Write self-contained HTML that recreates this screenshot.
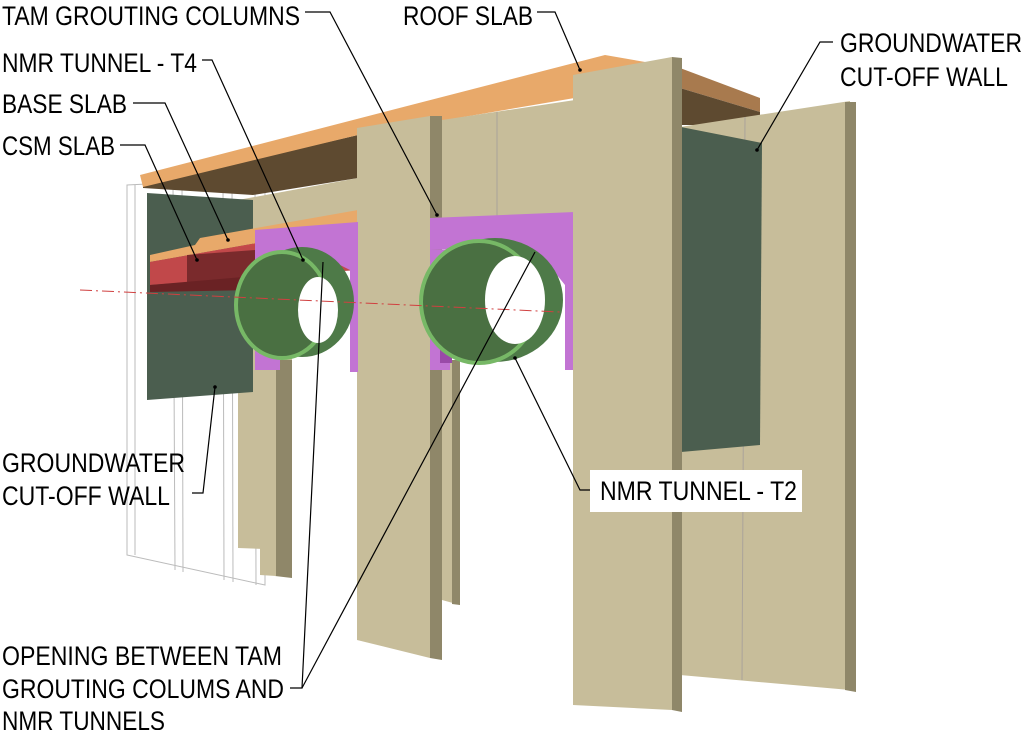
<!DOCTYPE html>
<html><head><meta charset="utf-8"><style>
html,body{margin:0;padding:0;background:#fff;}
svg{display:block;}
text{font-family:"Liberation Sans",Arial,sans-serif;font-size:27px;fill:#000;}
</style></head><body>
<svg width="1024" height="730" viewBox="0 0 1024 730" xmlns="http://www.w3.org/2000/svg">
<!-- wireframe left -->
<g fill="none" stroke="#bbb" stroke-width="1">
<polygon points="127,185 265,178 265,585 127,555"/>
<line x1="135" y1="185" x2="135" y2="555"/>
<line x1="173" y1="183" x2="175" y2="570"/>
<line x1="182" y1="183" x2="183" y2="572"/>
<line x1="223" y1="181" x2="224" y2="580"/>
<line x1="232" y1="180" x2="233" y2="582"/>
<line x1="255" y1="180" x2="256" y2="585"/>
</g>
<!-- back beige wall left -->
<polygon points="238,200 358,178 358,240 292,250 292,550 238,548" fill="#c7bd9a"/>
<polygon points="275,360 292,360 292,578 275,576" fill="#8f8769"/>
<polygon points="260,360 276,360 276,576 260,575" fill="#c7bd9a"/>
<!-- roof underside dark -->
<polygon points="143,185 358,135 358,178 253,195 143,188" fill="#5e4a30"/>
<!-- roof slab -->
<polygon points="140,175 605,55 680,68 680,80 358,135 143,187" fill="#e8a96a"/>
<polygon points="680,68 760,98 760,112 680,88" fill="#a87a4e"/>
<polygon points="680,88 760,112 760,125 680,125" fill="#5e4a30"/>
<!-- right back wall -->
<polygon points="680,127 850,101 850,690 680,675" fill="#c7bd9a"/>
<polygon points="845,102 856,102 856,692 845,690" fill="#8f8769"/>
<line x1="745" y1="117" x2="742" y2="680" stroke="#aaa39a" stroke-width="1"/>
<polygon points="681,127 762,143 760,445 681,452" fill="#4b5e4f"/>
<!-- left green panel -->
<polygon points="147,193 253,200 253,392 147,400" fill="#4b5e4f"/>
<!-- base slab / CSM -->
<polygon points="150,255 195,245 200,238 358,210 358,225 150,262" fill="#e8a96a"/>
<polygon points="150,262 358,225 358,232 200,258 150,262" fill="#c9484a"/>
<polygon points="150,262 255,245 358,232 358,270 150,285" fill="#c1484a"/>
<polygon points="187,255 255,250 255,278 187,284" fill="#7a2a2c"/>
<polygon points="150,285 255,276 255,290 150,292" fill="#6a2224"/>
<!-- middle pillar -->
<polygon points="357,128 430,116 430,658 357,640" fill="#c7bd9a"/>
<polygon points="430,116 442,116 442,660 430,658" fill="#8f8769"/>
<!-- back wall middle area (above frame) -->
<polygon points="442,120 575,100 575,225 442,232" fill="#c7bd9a"/>
<line x1="497" y1="112" x2="497" y2="225" stroke="#aaa39a"/>
<polygon points="442,360 460,360 460,605 442,600" fill="#c7bd9a"/>
<polygon points="452,360 460,360 460,605 452,604" fill="#8f8769"/>
<!-- purple frames -->
<polygon points="255,230 358,222 358,372 350,372 350,270 320,255 255,258" fill="#c274d3"/>
<polygon points="255,255 280,255 280,370 255,370" fill="#c274d3"/>
<polygon points="430,218 575,212 575,370 565,370 565,285 545,260 520,248 430,250" fill="#c274d3"/>
<polygon points="430,250 450,250 450,370 430,370" fill="#c274d3"/>
<polygon points="440,340 452,340 452,363 440,363" fill="#9a4aa8"/>
<!-- tunnel T4 -->
<ellipse cx="302" cy="302" rx="52" ry="55" fill="#4e7a48"/>
<ellipse cx="282" cy="305" rx="46" ry="53" fill="#4a7042" stroke="#77b866" stroke-width="4"/>
<ellipse cx="318" cy="310" rx="20" ry="33" fill="#fff"/>
<!-- tunnel T2 -->
<ellipse cx="495" cy="300" rx="68" ry="62" fill="#4e7a48"/>
<ellipse cx="479" cy="302" rx="58" ry="61" fill="#4a7042" stroke="#77b866" stroke-width="4"/>
<ellipse cx="515" cy="300" rx="30" ry="44" fill="#fff"/>
<!-- front right pillar -->
<polygon points="573,75 672,57 672,710 573,705" fill="#c7bd9a"/>
<polygon points="672,57 682,58 682,712 672,710" fill="#8f8769"/>
<!-- red centerline -->
<polyline points="80,290 560,312" fill="none" stroke="#d04040" stroke-width="1" stroke-dasharray="12,4,2,4"/>
<!-- leaders -->
<g fill="none" stroke="#000" stroke-width="1.2">
<polyline points="305,12 330,12 437,215"/>
<polyline points="537,12 555,12 580,70"/>
<polyline points="202,60 212,60 303,260"/>
<polyline points="133,103 165,103 228,240"/>
<polyline points="120,145 145,145 197,260"/>
<polyline points="833,42 820,42 757,150"/>
<polyline points="192,493 203,493 215,387"/>
<polyline points="590,490 580,490 515,358"/>
<polyline points="290,688 302,688 323,262"/>
<polyline points="302,688 535,252"/>
</g>
<g fill="#000">
<circle cx="437" cy="215" r="1.8"/><circle cx="580" cy="70" r="1.8"/><circle cx="303" cy="260" r="1.8"/>
<circle cx="228" cy="240" r="1.8"/><circle cx="197" cy="260" r="1.8"/><circle cx="757" cy="150" r="1.8"/>
<circle cx="215" cy="387" r="1.8"/><circle cx="515" cy="358" r="1.8"/>
</g>
<rect x="590" y="470" width="212" height="42" fill="#fff"/>
<text x="2" y="25" textLength="298" lengthAdjust="spacingAndGlyphs">TAM GROUTING COLUMNS</text>
<text x="403" y="25" textLength="130" lengthAdjust="spacingAndGlyphs">ROOF SLAB</text>
<text x="2" y="72" textLength="195" lengthAdjust="spacingAndGlyphs">NMR TUNNEL - T4</text>
<text x="2" y="113" textLength="125" lengthAdjust="spacingAndGlyphs">BASE SLAB</text>
<text x="2" y="155" textLength="113" lengthAdjust="spacingAndGlyphs">CSM SLAB</text>
<text x="840" y="52" textLength="182" lengthAdjust="spacingAndGlyphs">GROUNDWATER</text>
<text x="840" y="86" textLength="168" lengthAdjust="spacingAndGlyphs">CUT-OFF WALL</text>
<text x="2" y="472" textLength="183" lengthAdjust="spacingAndGlyphs">GROUNDWATER</text>
<text x="2" y="505" textLength="168" lengthAdjust="spacingAndGlyphs">CUT-OFF WALL</text>
<text x="600" y="500" textLength="197" lengthAdjust="spacingAndGlyphs">NMR TUNNEL - T2</text>
<text x="2" y="665" textLength="280" lengthAdjust="spacingAndGlyphs">OPENING BETWEEN TAM</text>
<text x="2" y="698" textLength="282" lengthAdjust="spacingAndGlyphs">GROUTING COLUMS AND</text>
<text x="2" y="730" textLength="163" lengthAdjust="spacingAndGlyphs">NMR TUNNELS</text>
</svg>
</body></html>
